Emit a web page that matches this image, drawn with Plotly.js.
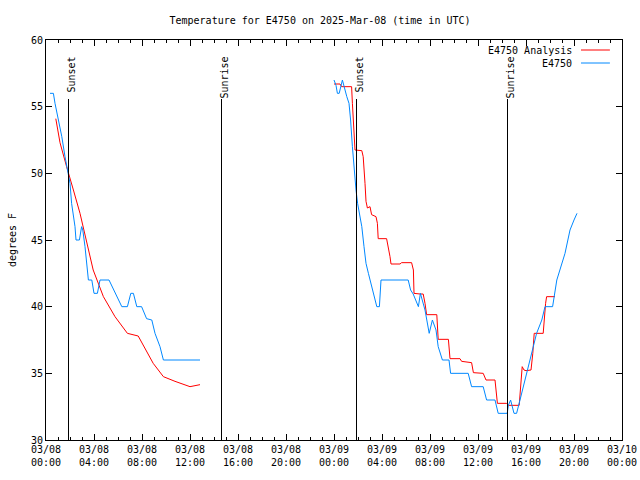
<!DOCTYPE html>
<html>
<head>
<meta charset="utf-8">
<script src="https://cdn.plot.ly/plotly-3.0.1.min.js"></script>
<style>html,body{margin:0;padding:0;background:#fff;}#chart{width:640px;height:480px;}</style>
</head>
<body>
<div id="chart"></div>
<script>
// ---- Data ----
const obsTimes = [
 "2025-03-08 00:20","2025-03-08 00:37","2025-03-08 00:45","2025-03-08 01:02","2025-03-08 01:19",
 "2025-03-08 01:35","2025-03-08 01:47","2025-03-08 01:52","2025-03-08 02:00","2025-03-08 02:08",
 "2025-03-08 02:17","2025-03-08 02:25","2025-03-08 02:30","2025-03-08 02:47","2025-03-08 02:58",
 "2025-03-08 03:04","2025-03-08 03:15","2025-03-08 03:23","2025-03-08 03:32","2025-03-08 03:49",
 "2025-03-08 04:00","2025-03-08 04:17","2025-03-08 04:30","2025-03-08 05:15","2025-03-08 05:45",
 "2025-03-08 06:19","2025-03-08 06:47","2025-03-08 07:04","2025-03-08 07:17","2025-03-08 07:34",
 "2025-03-08 07:58","2025-03-08 08:23","2025-03-08 08:49","2025-03-08 09:05","2025-03-08 09:30",
 "2025-03-08 09:47","2025-03-08 12:50",
 "2025-03-08 18:00",
 "2025-03-09 00:00","2025-03-09 00:10","2025-03-09 00:17","2025-03-09 00:26","2025-03-09 00:42",
 "2025-03-09 00:50","2025-03-09 01:04","2025-03-09 01:15","2025-03-09 01:23","2025-03-09 01:32",
 "2025-03-09 01:41","2025-03-09 01:50","2025-03-09 01:58","2025-03-09 02:06","2025-03-09 02:19",
 "2025-03-09 02:30","2025-03-09 02:40","2025-03-09 02:52","2025-03-09 03:08","2025-03-09 03:20",
 "2025-03-09 03:34","2025-03-09 03:47","2025-03-09 03:55","2025-03-09 06:11","2025-03-09 06:23",
 "2025-03-09 06:36","2025-03-09 06:53","2025-03-09 07:02","2025-03-09 07:12","2025-03-09 07:35",
 "2025-03-09 07:56","2025-03-09 08:12","2025-03-09 08:30","2025-03-09 08:41","2025-03-09 09:02",
 "2025-03-09 09:35","2025-03-09 09:43","2025-03-09 11:11","2025-03-09 11:28","2025-03-09 12:26",
 "2025-03-09 12:43","2025-03-09 13:25","2025-03-09 13:41","2025-03-09 14:26","2025-03-09 14:32",
 "2025-03-09 14:43","2025-03-09 15:00","2025-03-09 15:13","2025-03-09 15:30","2025-03-09 15:47",
 "2025-03-09 16:04","2025-03-09 16:20","2025-03-09 16:37","2025-03-09 16:53","2025-03-09 17:19",
 "2025-03-09 17:35","2025-03-09 18:13","2025-03-09 18:34","2025-03-09 19:15","2025-03-09 19:40",
 "2025-03-09 20:00","2025-03-09 20:15"
];
const obsTemps = [
 56.0,56.0,55.25,54.0,52.75,
 51.25,50.25,49.75,49.25,47.75,
 46.75,46.0,45.0,45.0,46.0,
 45.75,44.5,43.0,42.0,42.0,
 41.0,41.0,42.0,42.0,41.0,
 40.0,40.0,41.0,41.0,40.0,
 40.0,39.1,39.0,38.0,37.0,
 36.0,36.0,
 null,
 57.0,56.6,56.0,56.0,57.0,
 56.5,55.75,55.25,54.0,52.0,
 50.25,48.75,47.75,47.0,46.0,
 44.5,43.25,42.5,41.5,40.75,
 40.0,40.0,42.0,42.0,41.25,
 40.95,40.3,40.0,41.0,39.75,
 38.0,39.0,38.25,37.0,36.0,
 36.0,35.0,35.0,34.0,34.0,
 33.0,33.0,32.0,32.0,32.6,
 33.0,32.0,32.0,33.0,34.0,
 35.0,36.0,37.0,38.0,39.0,
 40.0,40.0,42.0,44.0,45.75,
 46.5,47.0
];

const anaTimes = [
 "2025-03-08 00:49","2025-03-08 01:10","2025-03-08 01:43","2025-03-08 01:52","2025-03-08 02:17",
 "2025-03-08 02:50","2025-03-08 03:23","2025-03-08 03:56","2025-03-08 04:47","2025-03-08 05:45",
 "2025-03-08 06:47","2025-03-08 07:41","2025-03-08 08:56","2025-03-08 09:47","2025-03-08 10:45",
 "2025-03-08 12:00","2025-03-08 12:50",
 "2025-03-08 18:00",
 "2025-03-09 00:00","2025-03-09 00:30","2025-03-09 00:38","2025-03-09 01:28","2025-03-09 01:32",
 "2025-03-09 01:40","2025-03-09 01:45","2025-03-09 02:19","2025-03-09 02:26","2025-03-09 02:35",
 "2025-03-09 02:40","2025-03-09 02:47","2025-03-09 03:00","2025-03-09 03:08","2025-03-09 03:30",
 "2025-03-09 03:37","2025-03-09 03:41","2025-03-09 04:23","2025-03-09 04:32","2025-03-09 04:40",
 "2025-03-09 04:45","2025-03-09 05:30","2025-03-09 05:38","2025-03-09 06:28","2025-03-09 06:37",
 "2025-03-09 06:40","2025-03-09 07:10","2025-03-09 07:26","2025-03-09 07:35","2025-03-09 07:43",
 "2025-03-09 08:34","2025-03-09 08:41","2025-03-09 09:32","2025-03-09 09:40","2025-03-09 10:30",
 "2025-03-09 10:38","2025-03-09 11:28","2025-03-09 11:37","2025-03-09 12:26","2025-03-09 12:40",
 "2025-03-09 13:25","2025-03-09 13:37","2025-03-09 14:23","2025-03-09 14:32","2025-03-09 15:26",
 "2025-03-09 15:34","2025-03-09 15:41","2025-03-09 15:50","2025-03-09 16:00","2025-03-09 16:25",
 "2025-03-09 16:34","2025-03-09 16:41","2025-03-09 17:26","2025-03-09 17:38","2025-03-09 17:43",
 "2025-03-09 18:25"
];
const anaTemps = [
 54.1,52.3,50.5,50.0,48.75,
 47.0,44.75,42.75,40.75,39.25,
 38.0,37.8,35.75,34.75,34.4,
 34.0,34.15,
 null,
 56.7,56.7,56.5,56.5,55.25,
 52.75,51.75,51.7,51.25,49.25,
 47.9,47.4,47.5,46.9,46.75,
 46.25,45.1,45.1,44.5,43.75,
 43.2,43.2,43.3,43.3,42.75,
 41.0,40.95,40.95,40.25,39.4,
 39.4,37.55,37.55,36.1,36.1,
 35.9,35.8,35.05,35.0,34.5,
 34.5,32.75,32.75,32.6,32.6,
 34.0,35.5,35.25,35.2,35.25,
 36.5,38.0,38.0,40.25,40.75,
 40.75
];

const eventTimes  = ["2025-03-08 01:52:30","2025-03-08 14:37:30","2025-03-09 01:52:30","2025-03-09 14:27:30"];
const eventLabels = ["Sunset","Sunrise","Sunset","Sunrise"];

const seriesNames  = ["E4750 Analysis","E4750"];
const seriesColors = ["#ff0000","#0088ff"];

const xRange = ["2025-03-08 00:00","2025-03-10 00:00"];
const yRange = [30, 60];

// ---- Chart ----
const FONT = "DejaVu Sans Mono, monospace";
const traces = [
  {x: anaTimes, y: anaTemps, type: "scatter", mode: "lines", name: seriesNames[0],
   connectgaps: false, line: {color: seriesColors[0], width: 1}},
  {x: obsTimes, y: obsTemps, type: "scatter", mode: "lines", name: seriesNames[1],
   connectgaps: false, line: {color: seriesColors[1], width: 1}}
];

const shapes = [];
const annotations = [];
eventTimes.forEach((t, i) => {
  shapes.push({type: "line", xref: "x", yref: "paper", x0: t, x1: t, y0: 0, y1: 0.8525,
               line: {color: "#000", width: 1}});
  annotations.push({xref: "x", yref: "paper", x: t, y: 0.9625, yanchor: "top", xanchor: "center",
                    xshift: 2, textangle: -90, text: eventLabels[i], showarrow: false,
                    font: {family: FONT, size: 10, color: "#000"}});
});

// manual gnuplot-style legend (text right-aligned, sample line on the right)
const legY = [0.975, 0.9425];
seriesNames.forEach((n, i) => {
  annotations.push({xref: "paper", yref: "paper", x: 0.9167, y: legY[i], xanchor: "right",
                    yanchor: "middle", text: n, showarrow: false,
                    font: {family: FONT, size: 10, color: "#000"}});
  shapes.push({type: "line", xref: "paper", yref: "paper", x0: 0.9288, x1: 0.979,
               y0: legY[i], y1: legY[i], line: {color: seriesColors[i], width: 1}});
});

const layout = {
  width: 640, height: 480,
  margin: {l: 46, r: 18, t: 40, b: 40},
  paper_bgcolor: "#fff", plot_bgcolor: "#fff",
  showlegend: false,
  font: {family: FONT, size: 10, color: "#000"},
  title: {text: "Temperature for E4750 on 2025-Mar-08 (time in UTC)",
          x: 0.5, xref: "container", y: 1 - 20/480, yref: "container", yanchor: "middle",
          font: {family: FONT, size: 10, color: "#000"}},
  xaxis: {type: "date", range: xRange, dtick: 4*3600*1000, tick0: "2025-03-08 00:00",
          tickformat: "%m/%d<br>%H:%M", ticks: "inside", ticklen: 6, tickcolor: "#000",
          minor: {dtick: 3600*1000, ticks: "inside", ticklen: 3, tickcolor: "#000"},
          showline: true, linecolor: "#000", linewidth: 1, mirror: "allticks",
          showgrid: false, zeroline: false, fixedrange: true,
          tickfont: {family: FONT, size: 10, color: "#000"}},
  yaxis: {range: yRange, dtick: 5, ticks: "inside", ticklen: 6, tickcolor: "#000",
          showline: true, linecolor: "#000", linewidth: 1, mirror: "allticks",
          showgrid: false, zeroline: false, fixedrange: true,
          title: {text: "degrees F", font: {family: FONT, size: 10, color: "#000"}},
          tickfont: {family: FONT, size: 10, color: "#000"}},
  shapes: shapes,
  annotations: annotations
};

Plotly.newPlot("chart", traces, layout, {displayModeBar: false, staticPlot: true});
</script>
</body>
</html>
